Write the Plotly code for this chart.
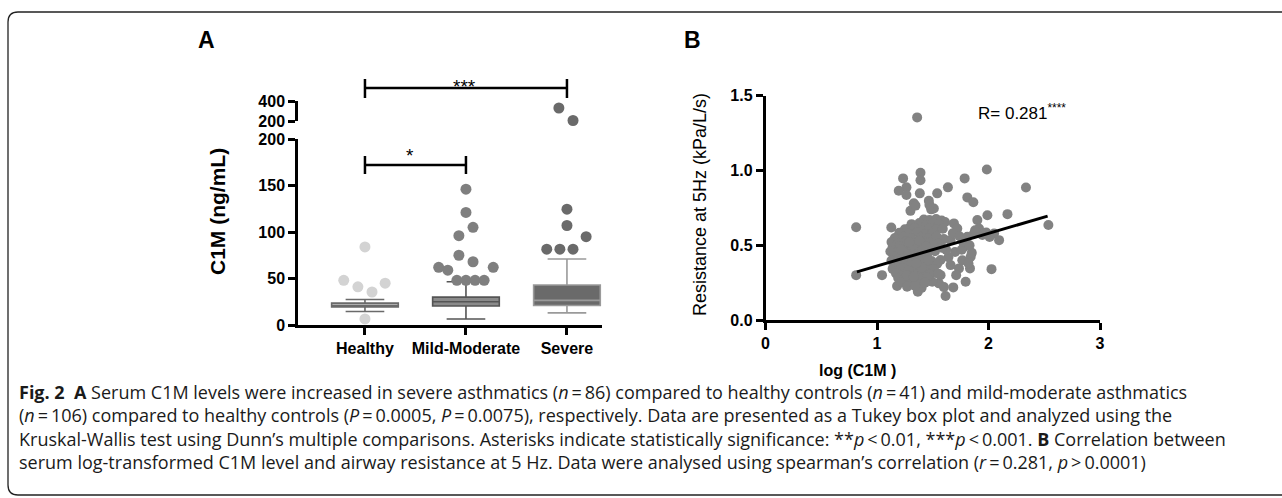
import plotly.graph_objects as go

W, H = 1282, 498

# ---------------- Panel A data (C1M, ng/mL) ----------------
groups = ["Healthy", "Mild-Moderate", "Severe"]
q1 = [19.5, 20.5, 21.0]
median = [21.0, 25.0, 26.5]
q3 = [23.5, 30.0, 43.0]
lower_whisker = [14.5, 6.5, 13.0]
upper_whisker = [27.5, 46.5, 71.0]

healthy_outliers = [84, 48, 41, 35.5, 45, 6.5]
healthy_offsets = [0, -0.21, -0.07, 0.07, 0.2, 0]
mild_outliers = [146, 121, 105, 96, 75, 68, 62, 59, 62, 48, 48, 48, 48]
mild_offsets = [0, 0, 0.07, -0.07, -0.07, 0.07, -0.27, -0.18, 0.27, -0.09, 0, 0.09, 0.18]
severe_outliers = [124.5, 107, 95, 81.5, 81.5, 81.5]
severe_offsets = [0, 0, 0.19, -0.2, -0.07, 0.06]
severe_high_outliers = [330, 205]
severe_high_offsets = [-0.08, 0.06]

low_ticks = [0, 50, 100, 150, 200]
high_ticks = [200, 400]

# ---------------- Panel B data ----------------
log_c1m = [
    1.36, 1.985, 1.39, 1.39, 1.234, 1.786, 1.264, 1.195, 1.384, 1.54, 1.636, 2.336,
    1.264, 1.33, 1.30, 1.465, 1.486, 1.51, 1.81, 1.864, 1.99, 2.17, 1.345, 1.47,
    2.537, 1.90, 1.915, 2.05, 2.095, 2.027, 1.81, 1.87, 1.945, 1.69, 1.72, 1.66,
    1.78, 1.84, 1.834, 1.735, 1.765, 1.66, 1.795, 1.684, 1.615, 1.70, 1.76, 1.82,
    1.71, 1.88, 1.98, 2.01, 1.77, 1.64, 1.62, 1.85, 1.68, 1.74, 1.83,
    0.813, 0.813, 1.045, 1.128, 1.18, 1.366, 1.555, 1.495, 1.57, 1.21, 1.285, 1.60, 1.40,
    1.42, 1.47, 1.53, 1.58, 1.61,
    1.31, 1.38, 1.445, 1.50, 1.555,
    1.25, 1.335, 1.40, 1.47, 1.53, 1.59,
    1.20, 1.28, 1.36, 1.43, 1.50,
    1.16, 1.235, 1.31, 1.39, 1.455, 1.535, 1.60,
    1.13, 1.19, 1.26, 1.33, 1.41, 1.48, 1.55,
    1.14, 1.205, 1.27, 1.35, 1.42, 1.50, 1.58,
    1.12, 1.18, 1.245, 1.30, 1.37, 1.44, 1.52,
    1.15, 1.20, 1.26, 1.32, 1.38, 1.45,
    1.13, 1.19, 1.25, 1.31, 1.36, 1.42, 1.49, 1.57,
    1.16, 1.21, 1.27, 1.33, 1.39, 1.46, 1.54,
    1.14, 1.20, 1.26, 1.31, 1.37, 1.44, 1.51,
    1.17, 1.23, 1.29, 1.35, 1.41, 1.48, 1.55,
    1.19, 1.25, 1.31, 1.38, 1.45,
    1.22, 1.29, 1.36, 1.43,
    1.27, 1.34,
    1.22, 1.28, 1.34, 1.24, 1.30, 1.36, 1.40, 1.28, 1.33, 1.23, 1.35, 1.29,
    1.40, 1.27, 1.33, 1.46, 1.38, 1.44,
]
resistance = [
    1.355, 1.007, 0.985, 0.935, 0.947, 0.947, 0.887, 0.864, 0.847, 0.847, 0.887, 0.886,
    0.836, 0.78, 0.73, 0.797, 0.74, 0.746, 0.82, 0.787, 0.70, 0.708, 0.765, 0.77,
    0.635, 0.668, 0.612, 0.579, 0.534, 0.34, 0.557, 0.579, 0.568, 0.646, 0.612, 0.534,
    0.49, 0.423, 0.345, 0.345, 0.40, 0.367, 0.256, 0.218, 0.16, 0.455, 0.47, 0.38,
    0.30, 0.60, 0.585, 0.555, 0.525, 0.42, 0.47, 0.45, 0.58, 0.56, 0.50,
    0.62, 0.30, 0.30, 0.619, 0.227, 0.189, 0.245, 0.256, 0.30, 0.579, 0.612, 0.22, 0.215,
    0.672, 0.668, 0.675, 0.665, 0.655,
    0.641, 0.648, 0.636, 0.645, 0.638,
    0.607, 0.615, 0.602, 0.612, 0.604, 0.61,
    0.583, 0.576, 0.588, 0.574, 0.582,
    0.548, 0.556, 0.543, 0.552, 0.545, 0.558, 0.541,
    0.522, 0.515, 0.527, 0.512, 0.524, 0.518, 0.511,
    0.488, 0.495, 0.482, 0.491, 0.486, 0.497, 0.484,
    0.458, 0.452, 0.463, 0.455, 0.466, 0.451, 0.46,
    0.428, 0.436, 0.421, 0.432, 0.425, 0.438,
    0.398, 0.405, 0.393, 0.402, 0.396, 0.408, 0.394, 0.401,
    0.372, 0.366, 0.378, 0.364, 0.374, 0.368, 0.376,
    0.342, 0.335, 0.346, 0.338, 0.344, 0.333, 0.341,
    0.312, 0.305, 0.316, 0.308, 0.314, 0.303, 0.31,
    0.281, 0.275, 0.287, 0.279, 0.284,
    0.252, 0.247, 0.256, 0.249,
    0.222, 0.228,
    0.47, 0.44, 0.47, 0.36, 0.39, 0.42, 0.35, 0.33, 0.50, 0.41, 0.38, 0.52,
    0.46, 0.30, 0.29, 0.40, 0.53, 0.49,
]
fit_x = [0.82, 2.53]
fit_y = [0.322, 0.695]
r_label = "R= 0.281<sup>****</sup>"


def px(x):
    return x / W


def py(y):
    return 1 - y / H


# layout geometry (pixels)
A_X0, A_X1 = 298, 602
A_RANGE = [-0.663, 2.347]
A_Y_LOW = (325, 139)
A_Y_HIGH = (121, 101)
B_X0, B_X1 = 765.5, 1100
B_Y = (320, 95.7)


def a_x_paper(v):
    return px(A_X0) + (v - A_RANGE[0]) / (A_RANGE[1] - A_RANGE[0]) * (px(A_X1) - px(A_X0))


TICK_FONT = dict(family="Liberation Sans, Arial", size=16, color="black", weight="bold")
axis_common = dict(showline=True, linecolor="black", linewidth=2.5, ticks="outside",
                   ticklen=7, tickwidth=2.5, tickcolor="black", showgrid=False,
                   zeroline=False, tickfont=TICK_FONT, automargin=False)

fig = go.Figure()

box_fill = ["#c6c6c6", "#8a8a8a", "#6a6a6a"]
box_line = ["#6a6a6a", "#555555", "#9a9a9a"]
out_color = ["#d3d3d3", "#7f7f7f", "#6a6a6a"]

for i, g in enumerate(groups):
    fig.add_trace(go.Box(
        x=[i], q1=[q1[i]], median=[median[i]], q3=[q3[i]],
        lowerfence=[lower_whisker[i]], upperfence=[upper_whisker[i]],
        width=0.66, whiskerwidth=0.58, fillcolor=box_fill[i],
        line=dict(color=box_line[i], width=1.6), boxpoints=False,
        xaxis="x", yaxis="y", showlegend=False, name=g))

outlier_sets = [(healthy_outliers, healthy_offsets), (mild_outliers, mild_offsets),
                (severe_outliers, severe_offsets)]
for i, (vals, offs) in enumerate(outlier_sets):
    fig.add_trace(go.Scatter(
        x=[i + o for o in offs], y=vals, mode="markers",
        marker=dict(size=11, color=out_color[i]), xaxis="x", yaxis="y",
        showlegend=False, cliponaxis=False))

fig.add_trace(go.Scatter(
    x=[2 + o for o in severe_high_offsets], y=severe_high_outliers, mode="markers",
    marker=dict(size=11, color=out_color[2]), xaxis="x", yaxis="y2",
    showlegend=False, cliponaxis=False))

# Panel B
fig.add_trace(go.Scatter(
    x=log_c1m, y=resistance, mode="markers",
    marker=dict(size=10, color="#828282"), xaxis="x2", yaxis="y3",
    showlegend=False, cliponaxis=False))
fig.add_trace(go.Scatter(
    x=fit_x, y=fit_y, mode="lines", line=dict(color="black", width=3),
    xaxis="x2", yaxis="y3", showlegend=False))

fig.update_layout(
    width=W, height=H, autosize=False, margin=dict(l=0, r=0, t=0, b=0, pad=0),
    paper_bgcolor="white", plot_bgcolor="white",
    xaxis=dict(domain=[px(A_X0), px(A_X1)], range=A_RANGE, tickvals=[0, 1, 2],
               ticktext=groups, anchor="y", **axis_common),
    yaxis=dict(domain=[py(A_Y_LOW[0]), py(A_Y_LOW[1])], range=[0, 200],
               tickvals=low_ticks, anchor="x", **axis_common),
    yaxis2=dict(domain=[py(A_Y_HIGH[0]), py(A_Y_HIGH[1])], range=[200, 400],
                tickvals=high_ticks, anchor="x", **axis_common),
    xaxis2=dict(domain=[px(B_X0), px(B_X1)], range=[0, 3], tickvals=[0, 1, 2, 3],
                anchor="y3", **axis_common),
    yaxis3=dict(domain=[py(B_Y[0]), py(B_Y[1])], range=[0, 1.5],
                tickvals=[0, 0.5, 1.0, 1.5], tickformat=".1f", anchor="x2", **axis_common),
)

shapes = []
# frame
frame = (f"M {px(1295)},{py(12)} L {px(18)},{py(12)} Q {px(8)},{py(12)} {px(8)},{py(22)} "
         f"L {px(8)},{py(485)} Q {px(8)},{py(495)} {px(18)},{py(495)} L {px(1295)},{py(495)}")
shapes.append(dict(type="path", path=frame, xref="paper", yref="paper",
                   line=dict(color="#222222", width=1.3)))


def bracket(i0, i1, yb, ytop, ybot):
    res = []
    x0, x1 = a_x_paper(i0), a_x_paper(i1)
    res.append(dict(type="line", xref="paper", yref="paper", x0=x0, x1=x1,
                    y0=py(yb), y1=py(yb), line=dict(color="black", width=2.5)))
    for xx in (x0, x1):
        res.append(dict(type="line", xref="paper", yref="paper", x0=xx, x1=xx,
                        y0=py(ytop), y1=py(ybot), line=dict(color="black", width=2.5)))
    return res


shapes += bracket(0, 2, 88, 79, 98)
shapes += bracket(0, 1, 165, 156, 174)
fig.update_layout(shapes=shapes)

ann = []


def text(x, y, s, size, bold=False, fam="Liberation Sans, Arial", xanchor="center",
         angle=0, color="black", align="center"):
    ann.append(dict(x=px(x), y=py(y), xref="paper", yref="paper", text=s,
                    showarrow=False, xanchor=xanchor, yanchor="middle", textangle=angle,
                    align=align,
                    font=dict(family=fam, size=size, color=color,
                              weight="bold" if bold else "normal")))


text(206, 40, "A", 23, bold=True)
text(692, 40, "B", 23, bold=True)
text(218, 212, "C1M (ng/mL)", 21, bold=True, angle=-90)
text(464, 86, "***", 19)
text(410, 155, "*", 19)
text(700, 205, "Resistance at 5Hz (kPa/L/s)", 18, angle=-90)
text(857, 370, "log (C1M )", 16, bold=True)
text(976, 112, r_label, 17, xanchor="left")

CAP = "Open Sans"
cap_lines = [
    "<b>Fig. 2</b>  <b>A</b> Serum C1M levels were increased in severe asthmatics (<i>n</i>\u2009=\u200986) "
    "compared to healthy controls (<i>n</i>\u2009=\u200941) and mild-moderate asthmatics",
    "(<i>n</i>\u2009=\u2009106) compared to healthy controls (<i>P</i>\u2009=\u20090.0005, "
    "<i>P</i>\u2009=\u20090.0075), respectively. Data are presented as a Tukey box plot and analyzed using the",
    "Kruskal-Wallis test using Dunn\u2019s multiple comparisons. Asterisks indicate statistically "
    "significance: **<i>p</i>\u2009&lt;\u20090.01, ***<i>p</i>\u2009&lt;\u20090.001. <b>B</b> Correlation between",
    "serum log-transformed C1M level and airway resistance at 5 Hz. Data were analysed using "
    "spearman\u2019s correlation (<i>r</i>\u2009=\u20090.281, <i>p</i>\u2009&gt;\u20090.0001)",
]
text(17, 427, "<br>".join(cap_lines), 18, fam=CAP, xanchor="left", color="#1a1a1a",
     align="left")

fig.update_layout(annotations=ann)

pin = ("document.documentElement.style.overflow='hidden';"
       "document.body.style.margin='0px';document.body.style.padding='0px';"
       "document.body.style.overflow='hidden';"
       "var d=document.getElementById('{plot_id}');d.style.position='absolute';"
       "d.style.left='0px';d.style.top='0px';")
fig.write_html("out.html", post_script=pin,
               config={"responsive": False, "displayModeBar": False})
